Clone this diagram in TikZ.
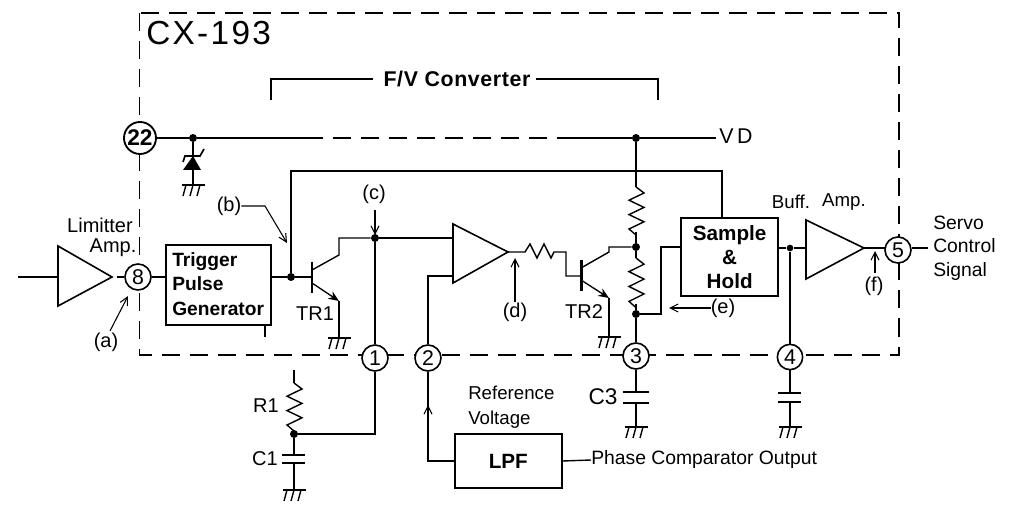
\documentclass[tikz,border=0pt]{standalone}
\usepackage{fontspec}
\setmainfont{Liberation Sans}
\newfontfamily\lsfont[LetterSpace=7]{Liberation Sans}
\newfontfamily\fvfont[LetterSpace=3]{Liberation Sans Bold}
\usetikzlibrary{arrows.meta,positioning,calc}
\tikzset{
  wire/.style={line width=1.05pt,black},
  thinwire/.style={line width=0.8pt,black},
  heavy/.style={line width=1.55pt,black},
  chipframe/.style={line width=1pt,dash pattern=on 13.5pt off 7.5pt},
  pin/.style={circle,draw,line width=1.2pt,fill=white,inner sep=0pt,minimum size=19.5pt,font=\fontsize{16pt}{18pt}\selectfont},
  blockbox/.style={draw,line width=1.5pt,inner sep=0pt,anchor=north west,align=center},
  junc/.style={circle,fill=black,inner sep=0pt,minimum size=6pt},
  lab/.style={inner sep=0pt,font=\fontsize{15pt}{18pt}\selectfont},
  bld/.style={inner sep=0pt,font=\fontsize{15pt}{18pt}\selectfont\bfseries},
  probe/.style={line width=.8pt,-{Straight Barb[length=6pt,width=6pt]}},
  emit/.style={line width=1pt,-{Stealth[length=8pt,width=6.5pt]}},
}
\newcommand{\gnd}[1]{%
  \draw[wire] ($(#1)+(-11,0)$) -- ++(23,0);
  \draw[wire] ($(#1)+(-7,0)$) -- ++(-3,11);
  \draw[wire] ($(#1)+(0,0)$) -- ++(-3,11);
  \draw[wire] ($(#1)+(7,0)$) -- ++(-3,11);}
\newcommand{\vres}[2]{% top coordinate name, zigzag step
  \draw[wire] (#1) -- ++(8,#2) -- ++(-15,#2*1.2) -- ++(15,#2*1.2) -- ++(-15,#2*1.2) -- ++(15,#2*1.2) -- ++(-15,#2*1.2) -- ++(7,#2);}
\begin{document}
\begin{tikzpicture}[x=0.75pt,y=-0.75pt]
\useasboundingbox[fill=white] (0,0) rectangle (1011,506);
% chip outline
\draw[chipframe] (139.5,13) rectangle (899,355);
% pins
\node[pin,minimum size=24pt,line width=1.4pt,font=\fontsize{17pt}{18pt}\selectfont\bfseries] (p22) at (140,138) {22};
\node[pin] (p8) at (138,277) {8};
\node[pin] (p1) at (375,358) {1};
\node[pin] (p2) at (428,358) {2};
\node[pin] (p3) at (636,356) {3};
\node[pin,minimum size=19pt] (p4) at (790,357) {4};
\node[pin] (p5) at (898,250) {5};
% text
\node[inner sep=0pt,anchor=west,font=\fontsize{25pt}{27pt}\lsfont] (chip) at (146,33) {CX-193};
\node[inner sep=0pt,font=\fontsize{16pt}{18pt}\fvfont] (fv) at (457,79) {F/V Converter};
\coordinate (bl) at (271,100); \coordinate (br) at (658,100);
\draw[wire,shorten >=8pt] (bl) |- (fv.west);
\draw[wire,shorten <=4pt] (fv.east) -| (br);
\node[lab] (lim) at (100,225) {Limitter};
\node[lab] (limb) at (113,248) {Amp.};
\node[lab] (la) at (106,342) {(a)};
\node[lab] (lb) at (229,206) {(b)};
\node[lab] (lc) at (374,194) {(c)};
\node[lab] (ld) at (515,312) {(d)};
\node[lab] (le) at (723,308) {(e)};
\node[lab] (lf) at (874,286) {(f)};
\node[lab] (ltr1) at (315,314) {TR1};
\node[lab] (ltr2) at (584,312) {TR2};
\node[lab] (lr1) at (266,406) {R1};
\node[lab] (lc1) at (265,459) {C1};
\node[lab,font=\fontsize{17pt}{18pt}\selectfont] (lc3) at (603,397) {C3};
\node[lab,anchor=west,font=\fontsize{16pt}{18pt}\selectfont] (lvd) at (719,136) {V\,D};
\node[lab,font=\fontsize{14pt}{18pt}\selectfont] (lbuff) at (791,202) {Buff.};
\node[lab,font=\fontsize{14pt}{18pt}\selectfont] (lamp) at (844,202) {Amp.};
\node[lab,anchor=west,align=left,font=\fontsize{14.5pt}{17.6pt}\selectfont] (lservo) at (933,248) {Servo\\Control\\Signal};
\node[lab,anchor=west,align=left,font=\fontsize{14pt}{18.8pt}\selectfont] (lref) at (468,407) {Reference\\Voltage};
\node[lab,anchor=west,font=\fontsize{14.5pt}{18pt}\selectfont] (lpc) at (591,460) {Phase Comparator Output};
% blocks
\node[blockbox,minimum width=79pt,minimum height=60pt] (tpg) at (165,244) {};
\node[bld,anchor=west,align=left,font=\fontsize{14.4pt}{18.3pt}\selectfont\bfseries] (tpgtext) at (172,284) {Trigger\\Pulse\\Generator};
\node[blockbox,minimum width=73pt,minimum height=58.5pt,font=\fontsize{15.5pt}{18pt}\selectfont\bfseries] (sh) at (680,217) {Sample\\\&\\Hold};
\node[blockbox,minimum width=80pt,minimum height=40.5pt,font=\fontsize{15.5pt}{18pt}\selectfont\bfseries] (lpf) at (454,433) {LPF};
% amplifiers
\coordinate (a1o) at (112,277); \coordinate (a2o) at (508,252); \coordinate (a3o) at (864,248);
\coordinate (a2i) at (453,238); \coordinate (a2j) at (453,276); \coordinate (a3i) at (806,248);
\draw[wire,line width=1.2pt] (58,246) -- (a1o) -- (58,306) -- cycle;
\draw[wire,line width=1.2pt] (453,224) -- (a2o) -- (453,283) -- cycle;
\draw[wire,line width=1.2pt] (806,220) -- (a3o) -- (806,279) -- cycle;
% junctions
\node[junc] (j22) at (193,138) {};
\node[junc] (jvd) at (636,138) {};
\node[junc] (jb) at (291,277) {};
\node[junc] (jc) at (375,238) {};
\node[junc] (jr1) at (294,434) {};
\node[junc] (jm) at (636,247) {};
\node[junc] (jl) at (636,314) {};
\node[junc,minimum size=5pt] (jo) at (790,248) {};
% supply rail
\coordinate (rail1) at (305,138); \coordinate (rail2) at (564,138); \coordinate (railend) at (716,138);
\draw[heavy] (p22) -- (j22) -- (rail1);
\draw[chipframe] (rail1) -- (rail2);
\draw[heavy] (rail2) -- (jvd) -- (railend);
% zener
\coordinate (zt) at (193,170); \coordinate (zg) at (193,185);
\draw[wire] (j22) -- (zg);
\fill (183,170) -- (201,170) -- (193,156) -- cycle;
\draw[wire,line width=1.3pt] (183,162) -- (185,156) -- (200,156) -- (204,149);
\gnd{zg}
% input
\coordinate (in) at (18,277);
\draw[wire] (in) -- (58,277);
\draw[wire,shorten <=3.5pt] (a1o) -- (p8);
\draw[wire] (p8) -- (tpg.west |- p8);
\draw[wire] (265,325) -- (265,337);
% feedback
\coordinate (fbt) at (291,171); \coordinate (fbr) at (722,171);
\draw[heavy] (jb) -- (fbt) -- (fbr) -- (fbr |- sh.north);
% TR1
\coordinate (b1) at (312,277);
\draw[wire] (tpg.east |- jb) -- (jb) -- (b1);
\draw[heavy] (312,262) -- (312,293);
\coordinate (c1k) at (339,255); \coordinate (e1k) at (339,301); \coordinate (g1) at (339,338);
\draw[wire] (312,270) -- (c1k) -- (339,238) -- (jc);
\draw[emit] (312,283) -- (e1k);
\draw[wire] (e1k) -- (g1);
\gnd{g1}
% after c
\draw[wire] (jc) -- (a2i);
\draw[wire] (jc) -- (p1);
\draw[heavy] (a2j) -| (p2);
% R1 C1
\coordinate (r1t) at (294,370); \coordinate (r1a) at (294,383);
\draw[wire] (r1t) -- (r1a);
\vres{r1a}{6}
\draw[heavy] (jr1) -| (p1);
\coordinate (c1a) at (294,455); \coordinate (c1b) at (294,463); \coordinate (c1g) at (294,490);
\draw[wire] (jr1) -- (c1a); \draw[wire] (c1b) -- (c1g);
\draw[heavy] (282,455) -- (305,455); \draw[heavy] (282,463) -- (305,463);
\gnd{c1g}
% LPF
\draw[heavy] (p2) |- (lpf.west);
\draw[wire] (lpf.east) -- (lpc.west);
\draw[probe] (428,420) -- (428,405);
% d section
\coordinate (r2a) at (525,252); \coordinate (r2b) at (554,252); \coordinate (b2) at (581,276);
\draw[wire] (a2o) -- (r2a) -- ++(5,-8) -- ++(7,14) -- ++(7,-14) -- ++(7,14) -- ++(3,-6) -- (566,252) -- (566,276) -- (b2);
% TR2
\draw[heavy] (581.5,260) -- (581.5,291);
\coordinate (c2k) at (609,252); \coordinate (e2k) at (609,298); \coordinate (g2) at (609,337);
\draw[wire] (581,268) -- (c2k) -- (609,247) -- (jm);
\draw[emit] (581,280) -- (e2k);
\draw[wire] (e2k) -- (g2);
\gnd{g2}
% divider
\coordinate (r3a) at (636,187); \coordinate (r4a) at (636,258);
\draw[wire] (jvd) -- (r3a);
\vres{r3a}{6}
\draw[wire] (636,232) -- (jm) -- (r4a);
\vres{r4a}{6.2}
\draw[wire] (636,304) -- (jl) -- (p3);
\coordinate (sha) at (661,314);
\draw[wire,line width=1.2pt] (jl) -- (sha) |- (sh.west |- jm);
% C3
\coordinate (c3a) at (636,392); \coordinate (c3b) at (636,403); \coordinate (c3g) at (636,427);
\draw[wire] (p3) -- (c3a); \draw[wire] (c3b) -- (c3g);
\draw[heavy] (623,392) -- (649,392); \draw[heavy] (623,403) -- (649,403);
\gnd{c3g}
% output section
\draw[wire] (sh.east |- jo) -- (jo) -- (a3i);
\draw[thinwire] (jo) -- (p4);
\coordinate (c4a) at (790,393); \coordinate (c4b) at (790,402); \coordinate (c4g) at (790,427);
\draw[wire] (p4) -- (c4a); \draw[wire] (c4b) -- (c4g);
\draw[heavy] (778,393) -- (801,393); \draw[heavy] (778,402) -- (801,402);
\gnd{c4g}
\draw[wire] (a3o) -- (885,248);
\draw[wire] (p5.east |- 0,248) -- (928,248);
% probe arrows
\draw[probe] (la) ++(4,-11) -- (128,296);
\draw[probe] (lb.east) -- (265,206) -- (287,243);
\draw[probe] (lc.south) ++(1,6) -- (375,235);
\draw[probe] (ld.north) -- (515,258);
\draw[probe] (le.west) -- (669,308);
\draw[probe] (lf.north) ++(1,-3) -- (875,251);
\end{tikzpicture}
\end{document}
